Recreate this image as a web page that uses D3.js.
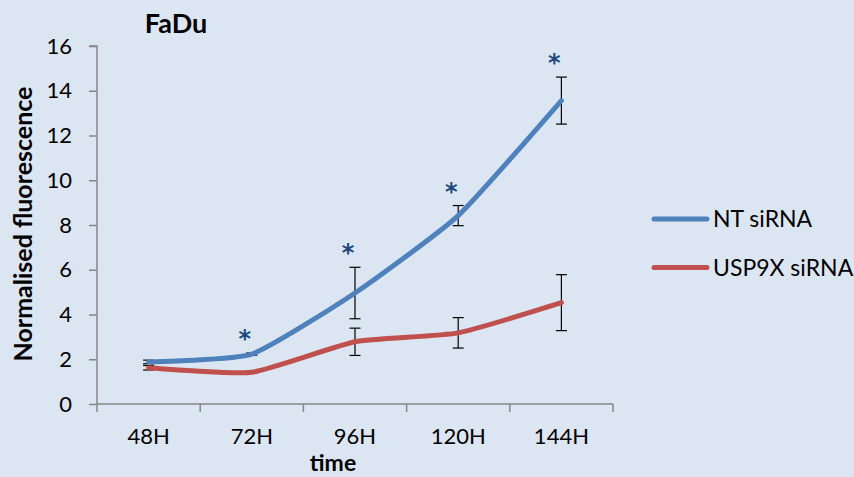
<!DOCTYPE html>
<html>
<head>
<meta charset="utf-8">
<script src="https://cdn.jsdelivr.net/npm/d3@7"></script>
<style>
  html, body { margin: 0; padding: 0; background: #DCE6F2; }
  svg { display: block; font-family: Lato, "Open Sans", sans-serif; }
</style>
</head>
<body>
<svg id="chart" width="854" height="477"></svg>
<script>
// Time points and measured fluorescence (mean ± error)
const timepoints = ["48H", "72H", "96H", "120H", "144H"];
const ntMean = [1.88, 2.23, 4.96, 8.42, 13.56];
const ntErr = [0.08, 0.05, 1.15, 0.45, 1.05];
const uspMean = [1.62, 1.42, 2.78, 3.18, 4.53];
const uspErr = [0.10, 0.05, 0.61, 0.68, 1.25];
const significant = [false, true, true, true, true];
const yTicks = [0, 2, 4, 6, 8, 10, 12, 14, 16];
const seriesNames = ["NT siRNA", "USP9X siRNA"];
const seriesColors = ["#4F81BD", "#C0504D"];

const svg = d3.select("#chart");
const plot = { left: 97, right: 613, top: 46, bottom: 404 };
const FONT = "Lato, 'Open Sans', sans-serif";

const x = d3.scaleBand().domain(timepoints).range([plot.left, plot.right]);
const y = d3.scaleLinear().domain([0, 16]).range([plot.bottom, plot.top]);
const cx = d => x(d) + x.bandwidth() / 2;

// Axes
const yAxis = d3.axisLeft(y).tickValues(yTicks).tickSize(8).tickPadding(17);
const gy = svg.append("g").attr("transform", `translate(${plot.left},0)`).call(yAxis);
const xAxis = d3.axisBottom(x).tickSize(0).tickPadding(24);
const gx = svg.append("g").attr("transform", `translate(0,${plot.bottom})`).call(xAxis);

[gy, gx].forEach(g => {
  g.select(".domain").attr("stroke", "#868686").attr("stroke-width", 1.5);
  g.selectAll(".tick line").attr("stroke", "#868686").attr("stroke-width", 1.5);
  g.selectAll("text").attr("font-size", 22).attr("fill", "#000").attr("font-family", FONT);
});
gy.select(".domain").attr("d", `M-8,${plot.top}H0V${plot.bottom}`);
gx.select(".domain").attr("d", `M${plot.left},0H${plot.right}`);

// Category boundary ticks on the x axis
const boundaries = timepoints.map(t => x(t)).concat([plot.right]);
gx.selectAll(".bound").data(boundaries).enter().append("line")
  .attr("x1", d => d).attr("x2", d => d).attr("y1", 0).attr("y2", 8)
  .attr("stroke", "#868686").attr("stroke-width", 1.5);

// Series
const series = [
  { name: seriesNames[0], mean: ntMean, err: ntErr, color: seriesColors[0] },
  { name: seriesNames[1], mean: uspMean, err: uspErr, color: seriesColors[1] }
];

const line = d3.line()
  .x((d, i) => cx(timepoints[i]))
  .y(d => y(d))
  .curve(d3.curveCardinal.tension(0.5));

// Error bars
series.forEach(s => {
  const g = svg.append("g");
  s.mean.forEach((m, i) => {
    const px = cx(timepoints[i]);
    const top = y(m + s.err[i]), bot = y(m - s.err[i]);
    g.append("line").attr("x1", px).attr("x2", px).attr("y1", top).attr("y2", bot)
      .attr("stroke", "#000").attr("stroke-width", 1.2);
    [top, bot].forEach(yy => g.append("line")
      .attr("x1", px - 5.5).attr("x2", px + 5.5).attr("y1", yy).attr("y2", yy)
      .attr("stroke", "#000").attr("stroke-width", 1.2));
  });
});

// Lines
series.forEach(s => {
  svg.append("path").datum(s.mean).attr("d", line)
    .attr("fill", "none").attr("stroke", s.color).attr("stroke-width", 5)
    .attr("stroke-linecap", "round").attr("stroke-linejoin", "round");
});

// Significance markers above the NT siRNA error bars
svg.append("g").selectAll("text").data(timepoints.filter((t, i) => significant[i]))
  .enter().append("text")
  .attr("x", t => cx(t) - 7)
  .attr("y", t => { const i = timepoints.indexOf(t); return y(ntMean[i] + ntErr[i]) - 6; })
  .attr("text-anchor", "middle")
  .attr("font-family", "'DejaVu Sans', sans-serif")
  .attr("font-size", 24).attr("font-weight", "bold").attr("fill", "#1F497D")
  .text("*");

// Title and axis labels
svg.append("text").attr("x", 176).attr("y", 33).attr("text-anchor", "middle")
  .attr("font-size", 27).attr("font-weight", "bold").text("FaDu");
svg.append("text").attr("transform", "translate(32,224) rotate(-90)").attr("text-anchor", "middle")
  .attr("font-size", 25).attr("font-weight", "bold").text("Normalised fluorescence");
svg.append("text").attr("x", 333).attr("y", 471).attr("text-anchor", "middle")
  .attr("font-size", 23).attr("font-weight", "bold").text("time");

// Legend
const legend = svg.append("g");
series.forEach((s, i) => {
  const ly = 219 + i * 48.5;
  legend.append("line").attr("x1", 654).attr("x2", 707).attr("y1", ly).attr("y2", ly)
    .attr("stroke", s.color).attr("stroke-width", 5).attr("stroke-linecap", "round");
  legend.append("text").attr("x", 713).attr("y", ly + 8).attr("font-size", 23).text(s.name);
});
</script>
</body>
</html>
